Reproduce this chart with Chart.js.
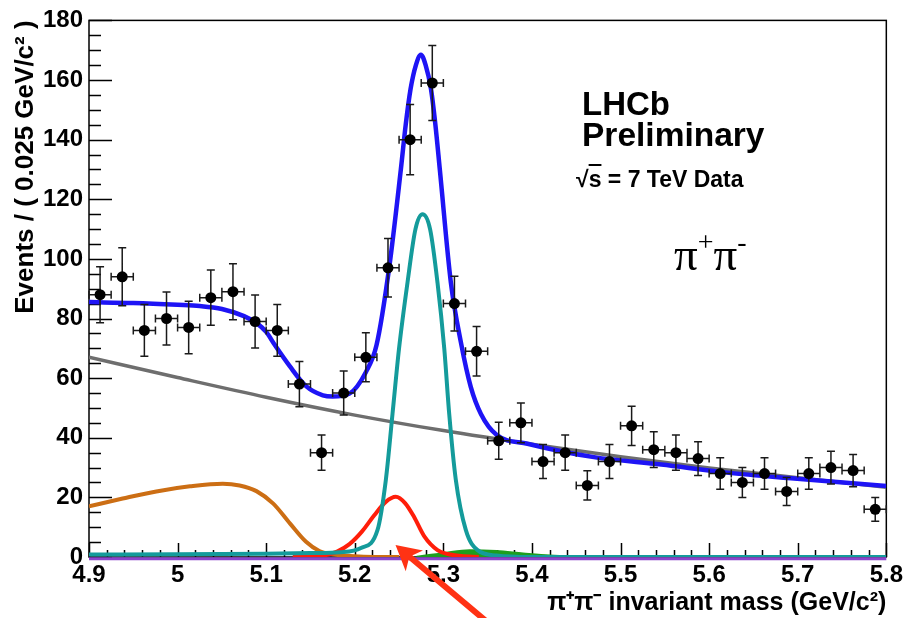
<!DOCTYPE html>
<html lang="en">
<head>
<meta charset="UTF-8">
<title>LHCb Preliminary - π+π- invariant mass</title>
<script src="https://cdn.jsdelivr.net/npm/chart.js"></script>
<style>
  html, body { margin: 0; padding: 0; background: #fff; }
  #wrap { position: relative; width: 907px; height: 618px; }
  .label { position: absolute; white-space: nowrap; color: #000; line-height: 1; }
  .sans { font-family: 'Liberation Sans', Arial, sans-serif; font-weight: bold; }
  .serif { font-family: 'Liberation Serif', 'Times New Roman', serif; }
  .serif sup { font-size: 28px; vertical-align: 19px; line-height: 0; }
  .over { text-decoration: overline; }
</style>
</head>
<body>
<div id="wrap">
  <canvas id="massChart" width="907" height="618"></canvas>
  <div class="label sans" style="left:582px;top:87px;font-size:33px">LHCb</div>
  <div class="label sans" style="left:582px;top:118px;font-size:33.5px">Preliminary</div>
  <div class="label sans" style="left:576px;top:168px;font-size:23px">√<span class="over">s</span> = 7 TeV Data</div>
  <div class="label serif" style="left:674px;top:231px;font-size:47px">π<sup>+</sup>π<sup>-</sup></div>
</div>

<script>
  // data: bin centres (GeV/c^2), events per bin, errors
  const binCenters = [4.9125, 4.9375, 4.9625, 4.9875, 5.0125, 5.0375, 5.0625, 5.0875, 5.1125, 5.1375, 5.1625, 5.1875,
    5.2125, 5.2375, 5.2625, 5.2875, 5.3125, 5.3375, 5.3625, 5.3875, 5.4125, 5.4375, 5.4625, 5.4875,
    5.5125, 5.5375, 5.5625, 5.5875, 5.6125, 5.6375, 5.6625, 5.6875, 5.7125, 5.7375, 5.7625, 5.7875]
  const counts = [88, 94, 76, 80, 77, 87, 89, 79, 76, 58, 35, 55,
    67, 97, 140, 159, 85, 69, 39, 45, 32, 35, 24, 32,
    44, 36, 35, 33, 28, 25, 28, 22, 28, 30, 29, 16]
  const countErrors = [9.4, 9.7, 8.7, 8.9, 8.8, 9.3, 9.4, 8.9, 8.7, 7.6, 5.9, 7.4,
    8.2, 9.8, 11.8, 12.6, 9.2, 8.3, 6.2, 6.7, 5.7, 5.9, 4.9, 5.7,
    6.6, 6.0, 5.9, 5.7, 5.3, 5.0, 5.3, 4.7, 5.3, 5.5, 5.4, 4.0]
  const binHalfWidth = 0.0125

  // fit curves
  const totalX = [4.9, 4.95, 5.0, 5.025, 5.05, 5.075, 5.09, 5.1, 5.11, 5.1266, 5.145, 5.164, 5.175, 5.194, 5.2125, 5.2245,
    5.2388, 5.252, 5.2575, 5.263, 5.269, 5.2746, 5.28, 5.286, 5.291, 5.296, 5.3085, 5.3198, 5.331, 5.3424, 5.36,
    5.395, 5.47, 5.546, 5.62, 5.696, 5.8]
  const totalY = [85.5, 85.2, 84.6, 84.2, 83.2, 80.8, 78.3, 75.5, 71, 64, 57.3, 54.2, 53.8, 54.8, 62, 71,
    97, 130, 145, 157, 165, 168.5, 165, 157, 145, 130, 92, 72, 57, 48, 41,
    38, 33.5, 31, 28.3, 26.3, 23.8]
  const combX = [4.9, 5.0, 5.1, 5.2, 5.3, 5.4, 5.5, 5.6, 5.7, 5.8]
  const combY = [67, 60.2, 53.6, 47.6, 42.4, 37.8, 33.6, 29.9, 26.6, 23.4]
  const partRecoX = [4.9, 4.938, 4.976, 5.014, 5.051, 5.07, 5.089, 5.108, 5.127, 5.145, 5.16, 5.175, 5.19, 5.21, 5.25]
  const partRecoY = [17, 19.6, 22, 23.7, 24.6, 24, 22.1, 17.9, 11.2, 5.1, 2, 0.9, 0.4, 0.1, 0]
  const signalX = [4.9, 5.0, 5.1, 5.15, 5.184, 5.207, 5.2256, 5.235, 5.2426, 5.25, 5.2595, 5.2685, 5.2765, 5.285,
    5.2934, 5.301, 5.3066, 5.314, 5.3254, 5.3386, 5.36, 5.4, 5.8]
  const signalY = [0.8, 0.9, 1.1, 1.3, 1.6, 3, 9, 25.7, 48, 70, 92, 110, 115, 110,
    92, 70, 48, 26, 9, 2.3, 0.5, 0, 0]
  const misIdX = [5.13, 5.15, 5.165, 5.18, 5.194, 5.208, 5.222, 5.235, 5.2463, 5.257, 5.267, 5.2783, 5.2934, 5.305, 5.32, 5.34]
  const misIdY = [0, 0.1, 0.5, 1.8, 4.3, 8.5, 14, 18.5, 20.2, 18, 13.4, 7, 2.3, 1, 0.3, 0]
  const threeBodyX = [5.27, 5.3, 5.33, 5.36, 5.39, 5.42, 5.46]
  const threeBodyY = [0, 1.2, 2.2, 1.9, 1.1, 0.4, 0]
  const flatX = [4.9, 5.8]
  const flatY = [-0.6, -0.6]

  const xTicks = [4.9, 5.0, 5.1, 5.2, 5.3, 5.4, 5.5, 5.6, 5.7, 5.8]
  const yTicks = [0, 20, 40, 60, 80, 100, 120, 140, 160, 180]
  const arrowTip = { x: 5.246, y: 4 }

  const FONT = "'Liberation Sans', Arial, sans-serif"

  function curve (xs, ys, color, width) {
    return {
      data: xs.map((x, i) => ({ x, y: ys[i] })),
      showLine: true,
      borderColor: color,
      borderWidth: width,
      pointRadius: 0,
      cubicInterpolationMode: 'monotone',
      fill: false
    }
  }

  // ROOT style frame with inward ticks
  const frameTicks = {
    id: 'frameTicks',
    beforeDatasetsDraw (chart) {
      const { ctx, chartArea: a, scales: { x, y } } = chart
      ctx.save()
      ctx.strokeStyle = '#000'
      ctx.lineWidth = 1.5
      ctx.strokeRect(a.left, a.top, a.right - a.left, a.bottom - a.top)
      ctx.beginPath()
      for (let v = 0; v <= 180.001; v += 5) {
        const py = Math.round(y.getPixelForValue(v)) + 0.5
        const len = v % 20 === 0 ? 23 : 12
        ctx.moveTo(a.left, py)
        ctx.lineTo(a.left + len, py)
      }
      for (let k = 0; k <= 45; k++) {
        const px = Math.round(x.getPixelForValue(4.9 + k * 0.02)) + 0.5
        const len = k % 5 === 0 ? 14 : 7
        ctx.moveTo(px, a.bottom)
        ctx.lineTo(px, a.bottom - len)
      }
      ctx.stroke()
      ctx.restore()
    }
  }

  const errorBars = {
    id: 'errorBars',
    beforeDatasetDraw (chart, args) {
      if (args.index !== 0) return
      const { ctx, scales: { x, y } } = chart
      ctx.save()
      ctx.strokeStyle = '#1a1a1a'
      ctx.lineWidth = 1.5
      ctx.beginPath()
      binCenters.forEach((m, i) => {
        const px = x.getPixelForValue(m)
        const py = y.getPixelForValue(counts[i])
        const top = y.getPixelForValue(counts[i] + countErrors[i])
        const bot = y.getPixelForValue(counts[i] - countErrors[i])
        const l = x.getPixelForValue(m - binHalfWidth)
        const r = x.getPixelForValue(m + binHalfWidth)
        ctx.moveTo(px, top); ctx.lineTo(px, bot)
        ctx.moveTo(px - 4, top); ctx.lineTo(px + 4, top)
        ctx.moveTo(px - 4, bot); ctx.lineTo(px + 4, bot)
        ctx.moveTo(l, py); ctx.lineTo(r, py)
        ctx.moveTo(l, py - 4); ctx.lineTo(l, py + 4)
        ctx.moveTo(r, py - 4); ctx.lineTo(r, py + 4)
      })
      ctx.stroke()
      ctx.restore()
    }
  }

  const redArrow = {
    id: 'redArrow',
    afterDraw (chart) {
      const { ctx, scales: { x, y } } = chart
      const tx = x.getPixelForValue(arrowTip.x)
      const ty = y.getPixelForValue(arrowTip.y)
      const ang = Math.atan2(73, 87)
      const sx = tx + Math.cos(ang) * 120
      const sy = ty + Math.sin(ang) * 120
      ctx.save()
      ctx.strokeStyle = '#ff3214'
      ctx.fillStyle = '#ff3214'
      ctx.lineWidth = 6
      ctx.beginPath()
      ctx.moveTo(sx, sy)
      ctx.lineTo(tx + Math.cos(ang) * 14, ty + Math.sin(ang) * 14)
      ctx.stroke()
      ctx.beginPath()
      ctx.moveTo(tx, ty)
      ctx.lineTo(tx + Math.cos(ang + 0.5) * 28, ty + Math.sin(ang + 0.5) * 28)
      ctx.lineTo(tx + Math.cos(ang) * 18, ty + Math.sin(ang) * 18)
      ctx.lineTo(tx + Math.cos(ang - 0.5) * 28, ty + Math.sin(ang - 0.5) * 28)
      ctx.closePath()
      ctx.fill()
      ctx.restore()
    }
  }

  new Chart(document.getElementById('massChart'), {
    type: 'scatter',
    data: {
      datasets: [
        {
          data: binCenters.map((m, i) => ({ x: m, y: counts[i] })),
          pointRadius: 5.5,
          pointBackgroundColor: '#000',
          pointBorderColor: '#000',
          pointBorderWidth: 0,
          showLine: false
        },
        curve(totalX, totalY, '#1e14f5', 4.5),
        Object.assign(curve(flatX, flatY, '#8a45cc', 3), { clip: false }),
        curve(signalX, signalY, '#149b9b', 4),
        curve(misIdX, misIdY, '#ff1e0a', 4),
        curve(combX, combY, '#6e6e6e', 3.5),
        curve(partRecoX, partRecoY, '#cc6e14', 4),
        Object.assign(curve(threeBodyX, threeBodyY, '#1e9e1e', 2.5), { fill: 'origin', backgroundColor: '#1e9e1e' })
      ]
    },
    options: {
      responsive: false,
      animation: false,
      layout: { padding: { top: 17, right: 19, left: 0, bottom: 0 } },
      plugins: { legend: { display: false }, tooltip: { enabled: false } },
      scales: {
        x: {
          type: 'linear',
          min: 4.9,
          max: 5.8,
          afterFit: s => { s.height = 61 },
          afterBuildTicks: s => { s.ticks = xTicks.map(v => ({ value: v })) },
          grid: { display: false, drawTicks: false },
          border: { display: false },
          ticks: {
            padding: 4,
            color: '#000',
            font: { family: FONT, size: 24, weight: 'bold' },
            callback: v => String(+v.toFixed(1))
          },
          title: {
            display: true,
            text: 'π⁺π⁻ invariant mass (GeV/c²)',
            align: 'end',
            color: '#000',
            padding: { top: 0, bottom: 0 },
            font: { family: FONT, size: 25, weight: 'bold' }
          }
        },
        y: {
          min: 0,
          max: 180,
          afterFit: s => { s.width = 89 },
          afterBuildTicks: s => { s.ticks = yTicks.map(v => ({ value: v })) },
          grid: { display: false, drawTicks: false },
          border: { display: false },
          ticks: {
            padding: 6,
            color: '#000',
            font: { family: FONT, size: 24, weight: 'bold' }
          },
          title: {
            display: true,
            text: 'Events / ( 0.025 GeV/c² )',
            align: 'end',
            color: '#000',
            padding: { top: 10, bottom: 0 },
            font: { family: FONT, size: 26, weight: 'bold' }
          }
        }
      }
    },
    plugins: [frameTicks, errorBars, redArrow]
  })
</script>
</body>
</html>
